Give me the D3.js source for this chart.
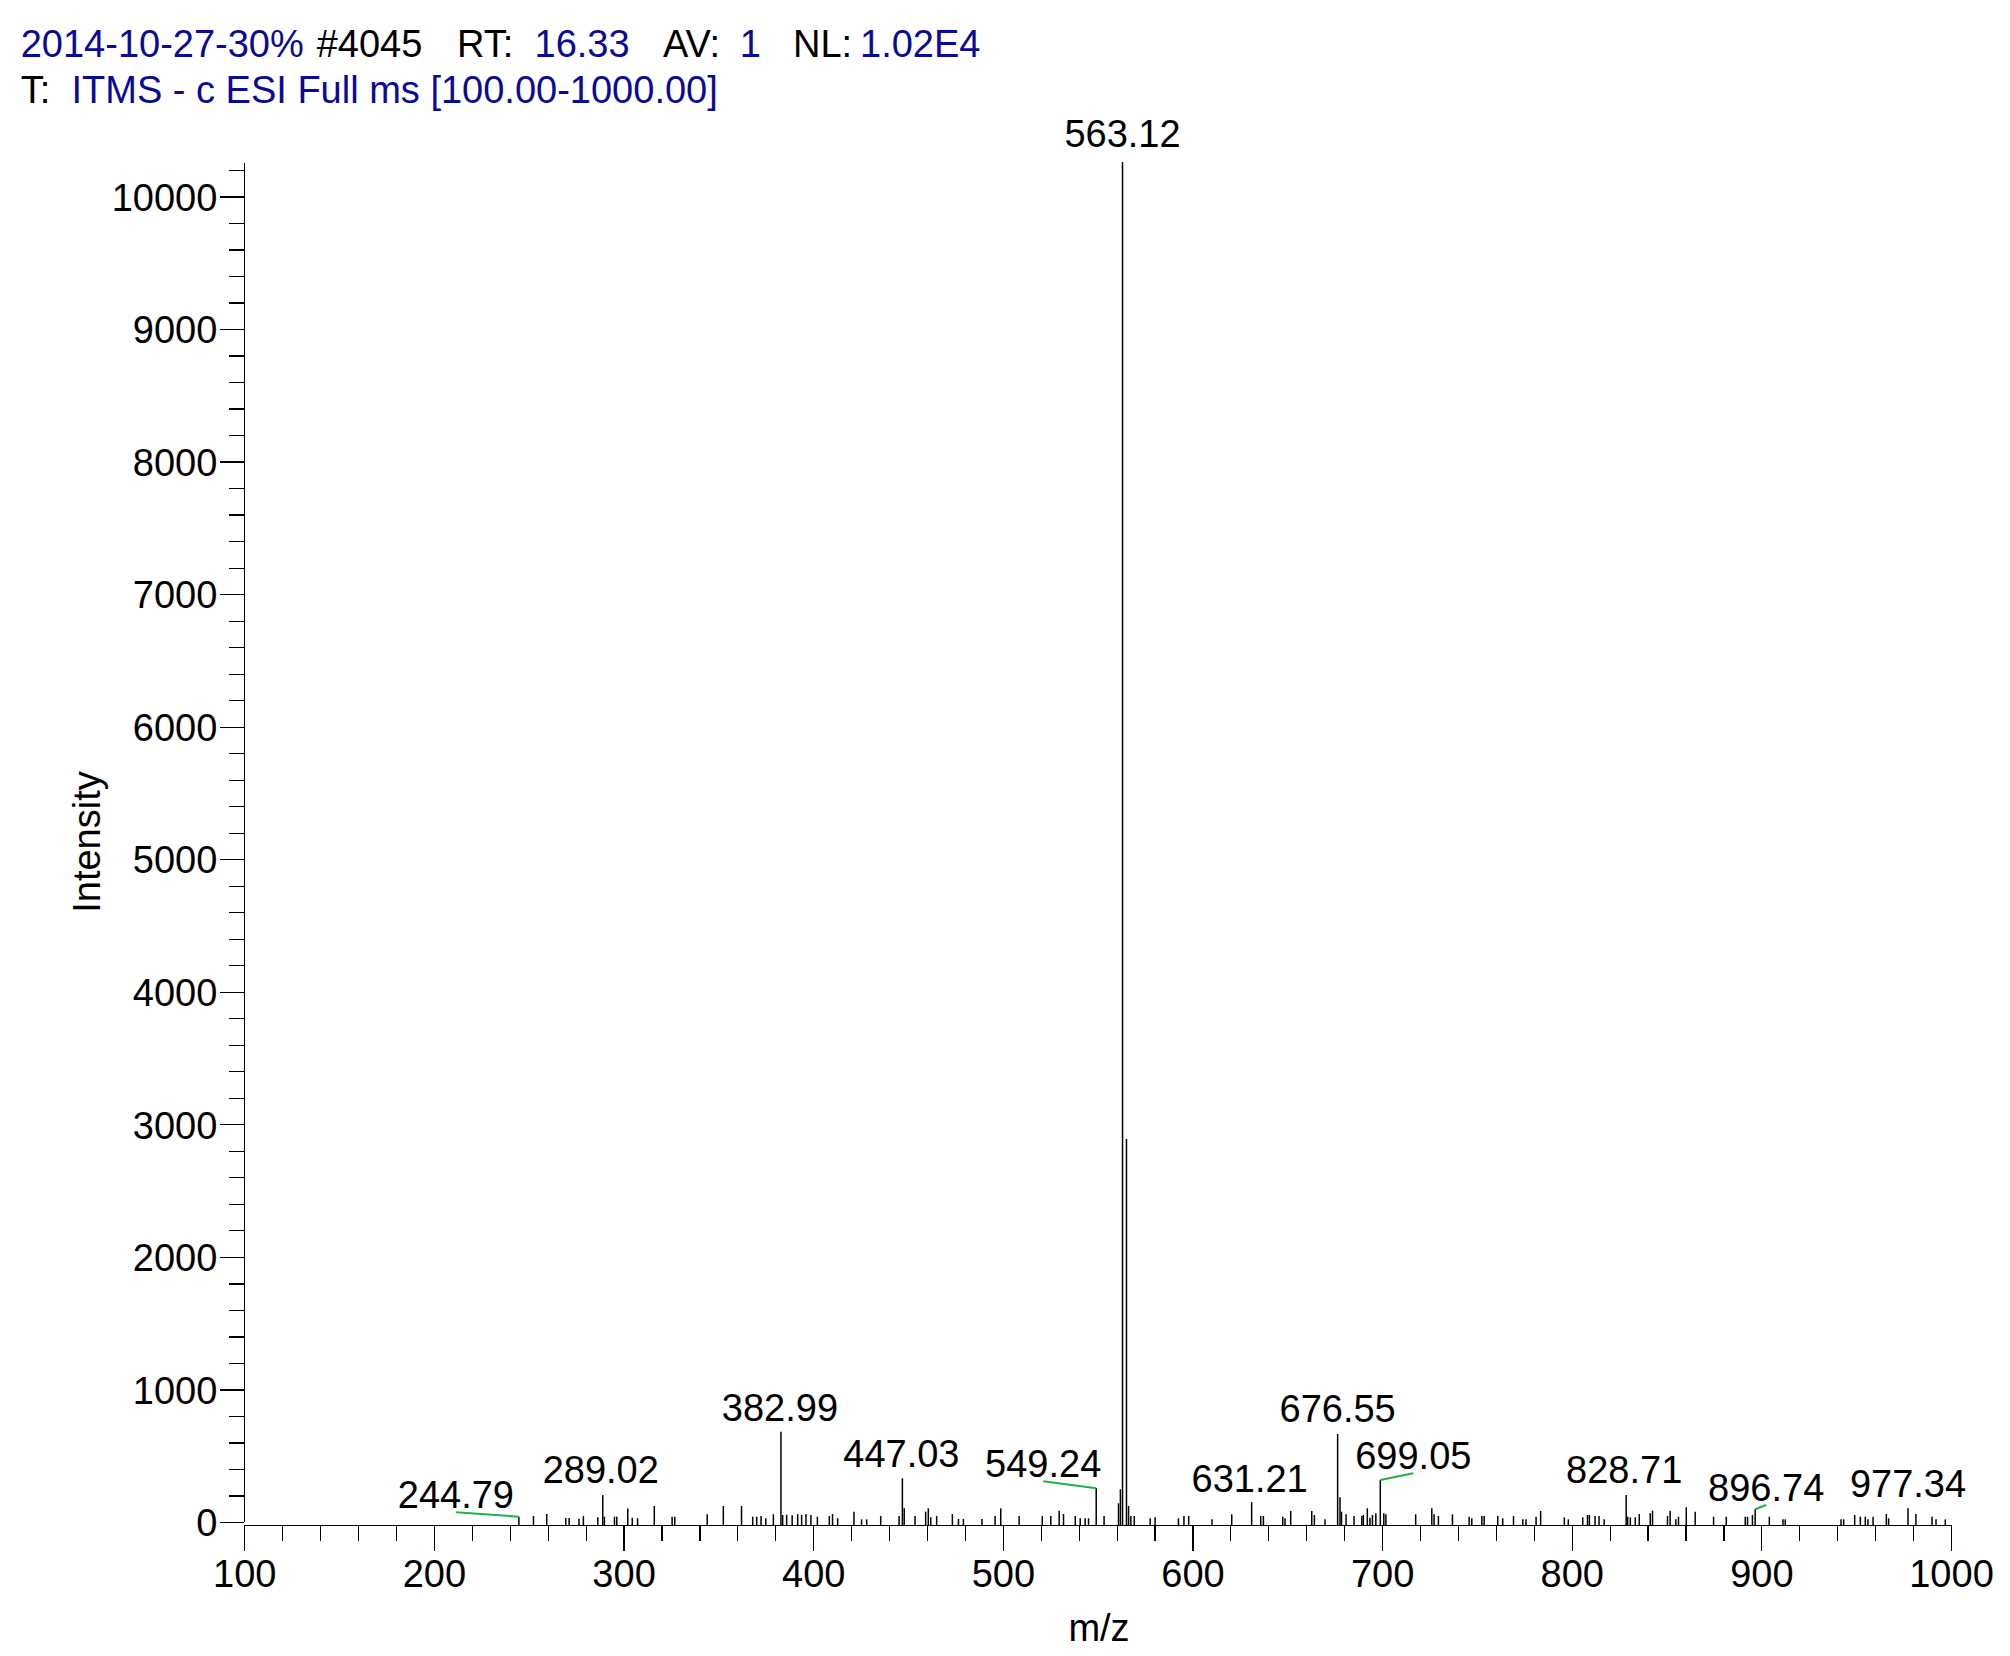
<!DOCTYPE html>
<html>
<head>
<meta charset="utf-8">
<script src="https://cdn.jsdelivr.net/npm/d3@7"></script>
<style>
  html, body { margin: 0; padding: 0; background: #fff; }
  svg { display: block; }
  text { font-family: "Liberation Sans", Arial, sans-serif; }
</style>
</head>
<body>
<svg id="chart" width="2010" height="1656"></svg>
<script>
// ---------------- DATA ----------------
const peakMz = [244.79,252.5,259.5,269.5,271.3,276.5,278.8,286.4,289.02,289.9,
  295.2,296.4,302.2,304.6,307.4,316.2,325.6,327.0,344.1,352.6,
  362.2,368.1,370.2,372.5,375.0,379.0,382.99,383.9,386.0,388.9,
  391.8,393.9,396.2,398.8,402.2,408.5,410.2,412.9,421.5,425.5,
  428.2,435.6,445.3,447.03,448.0,453.7,459.3,460.7,462.0,465.1,
  473.4,476.6,479.2,489.0,495.9,498.9,508.6,520.8,525.3,529.7,
  532.0,538.2,540.8,543.4,545.2,549.24,553.4,561.0,562.0,563.12,
  565.2,566.3,567.5,569.3,577.7,580.3,592.6,595.5,598.0,610.3,
  620.7,631.21,636.0,637.4,647.6,648.8,651.8,662.9,664.3,669.9,
  676.55,677.8,678.6,681.0,685.2,689.3,690.1,692.2,693.6,694.9,
  696.7,699.05,700.9,702.0,717.7,726.2,727.4,729.7,737.1,745.9,
  747.3,752.6,753.8,761.0,763.6,769.3,774.2,775.9,781.2,783.6,
  796.1,798.2,805.8,808.3,809.3,812.3,814.4,817.1,828.71,829.5,
  830.9,833.5,835.6,841.4,842.6,850.5,851.9,854.9,856.3,860.4,
  865.1,874.8,881.5,891.5,892.7,895.3,896.74,904.2,911.4,912.6,
  942.0,943.4,949.2,952.2,954.8,956.2,958.9,965.9,967.1,977.34,
  981.5,990.0,992.1,997.0];
const peakIntensity = [40,45,60,30,30,25,45,35,203,40,
  40,40,103,32,28,121,40,40,58,121,
  121,40,40,45,28,58,681,53,55,50,
  60,53,60,53,40,45,60,28,78,20,
  20,45,45,330,103,45,78,103,35,45,
  60,23,23,23,45,103,45,45,45,85,
  60,45,28,28,28,254,45,141,247,10260,
  2890,121,45,45,28,35,28,45,45,20,
  58,150,45,45,40,28,83,83,53,20,
  664,186,78,58,45,45,53,103,32,53,
  66,317,66,58,58,103,58,45,58,40,
  28,45,45,45,28,45,20,20,40,83,
  35,20,35,53,53,45,45,20,204,40,
  35,35,60,66,85,45,85,20,40,111,
  78,40,40,40,40,53,96,40,20,20,
  20,20,53,40,40,20,40,60,28,103,
  60,40,20,20];
const labelledMz = [244.79,289.02,382.99,447.03,549.24,563.12,631.21,676.55,699.05,828.71,896.74,977.34];
const xMajorTicks = [100,200,300,400,500,600,700,800,900,1000];
const yMajorTicks = [0,1000,2000,3000,4000,5000,6000,7000,8000,9000,10000];
const titleLine1 = [
  {t:"2014-10-27-30%", c:"blue"}, {t:"#4045", c:"black"}, {t:"RT:", c:"black"},
  {t:"16.33", c:"blue"}, {t:"AV:", c:"black"}, {t:"1", c:"blue"},
  {t:"NL:", c:"black"}, {t:"1.02E4", c:"blue"}];
const titleLine2 = [{t:"T:", c:"black"}, {t:"ITMS - c ESI Full ms [100.00-1000.00]", c:"blue"}];

// ---------------- LAYOUT ----------------
const BLUE = "#0a0a96", GREEN = "#20b24a";
const FONT = 38;
const title1X = [20.7, 316.7, 457, 534.5, 663, 739.7, 793, 860];
const title2X = [20.7, 71.5];
const labelLayout = {
  244.79:{dx:-63,dy:-8.4,leader:true}, 289.02:{dx:-2,dy:-11.7}, 382.99:{dx:-1,dy:-10.7},
  447.03:{dx:-1,dy:-11}, 549.24:{dx:-53,dy:-11,leader:true}, 563.12:{dx:0,dy:-15},
  631.21:{dx:-2,dy:-10.4}, 676.55:{dx:0,dy:-12.3}, 699.05:{dx:33,dy:-10.7,leader:true},
  828.71:{dx:-2,dy:-11.7}, 896.74:{dx:11,dy:-8.3,leader:true}, 977.34:{dx:0,dy:-11.6}};

const svg = d3.select("#chart");
const x = d3.scaleLinear().domain([100, 1000]).range([244.3, 1951]);
const y = d3.scaleLinear().domain([0, 10275]).range([1522, 160]);
const xAxisY = 1525;

// Title
const t1 = svg.append("text").attr("y", 57.3).style("font-size", FONT + "px");
titleLine1.forEach((s, i) => t1.append("tspan").attr("x", title1X[i]).attr("fill", s.c === "blue" ? BLUE : "#000").text(s.t));
const t2 = svg.append("text").attr("y", 103.3).style("font-size", FONT + "px");
titleLine2.forEach((s, i) => t2.append("tspan").attr("x", title2X[i]).attr("fill", s.c === "blue" ? BLUE : "#000").text(s.t));

// Y axis minor ticks
const yMinor = d3.range(0, 10201, 200).filter(v => v % 1000 !== 0);
svg.append("g").attr("transform", "translate(244.3,0)")
  .call(d3.axisLeft(y).tickValues(yMinor).tickSize(15).tickFormat(""))
  .call(g => g.select(".domain").remove());
// Y axis major
const gy = svg.append("g").attr("transform", "translate(244.3,0)")
  .call(d3.axisLeft(y).tickValues(yMajorTicks).tickSize(24).tickSizeOuter(0).tickPadding(3).tickFormat(d3.format("d")));
gy.select(".domain").attr("d", `M0,${y(0)}V163`);
gy.selectAll("text").style("font-size", FONT + "px").attr("fill", "#000").attr("dy", "0.36em");

// X axis minor
const xMinor = d3.range(120, 1000, 20).filter(v => v % 100 !== 0);
svg.append("g").attr("transform", `translate(0,${xAxisY})`)
  .call(d3.axisBottom(x).tickValues(xMinor).tickSize(16).tickFormat(""))
  .call(g => g.select(".domain").remove());
const gx = svg.append("g").attr("transform", `translate(0,${xAxisY})`)
  .call(d3.axisBottom(x).tickValues(xMajorTicks).tickSize(26).tickSizeOuter(0).tickPadding(9).tickFormat(d3.format("d")));
gx.selectAll("text").style("font-size", FONT + "px").attr("fill", "#000");

svg.selectAll(".tick line, .domain").attr("stroke", "#000").attr("stroke-width", 1.2).attr("shape-rendering", "crispEdges");

// Peaks
const peaks = peakMz.map((m, i) => ({m, v: peakIntensity[i]}));
svg.append("g").selectAll("line").data(peaks).join("line")
  .attr("x1", d => x(d.m)).attr("x2", d => x(d.m))
  .attr("y1", xAxisY).attr("y2", d => y(d.v))
  .attr("stroke", "#000").attr("stroke-width", 1.5);

// Peak labels
const lab = peaks.filter(p => labelledMz.includes(p.m));
const lg = svg.append("g");
lab.forEach(p => {
  const L = labelLayout[p.m];
  const px = x(p.m), py = y(p.v);
  if (L.leader) {
    lg.append("line").attr("x1", px).attr("y1", py)
      .attr("x2", px + L.dx).attr("y2", py + L.dy + 4)
      .attr("stroke", GREEN).attr("stroke-width", 2);
  }
  lg.append("text").attr("x", px + L.dx).attr("y", py + L.dy)
    .attr("text-anchor", "middle").style("font-size", FONT + "px")
    .text(p.m.toFixed(2));
});

// Axis titles
svg.append("text").attr("transform", "translate(100,842) rotate(-90)")
  .attr("text-anchor", "middle").style("font-size", FONT + "px").text("Intensity");
svg.append("text").attr("x", 1099).attr("y", 1641)
  .attr("text-anchor", "middle").style("font-size", FONT + "px").text("m/z");
</script>
</body>
</html>
